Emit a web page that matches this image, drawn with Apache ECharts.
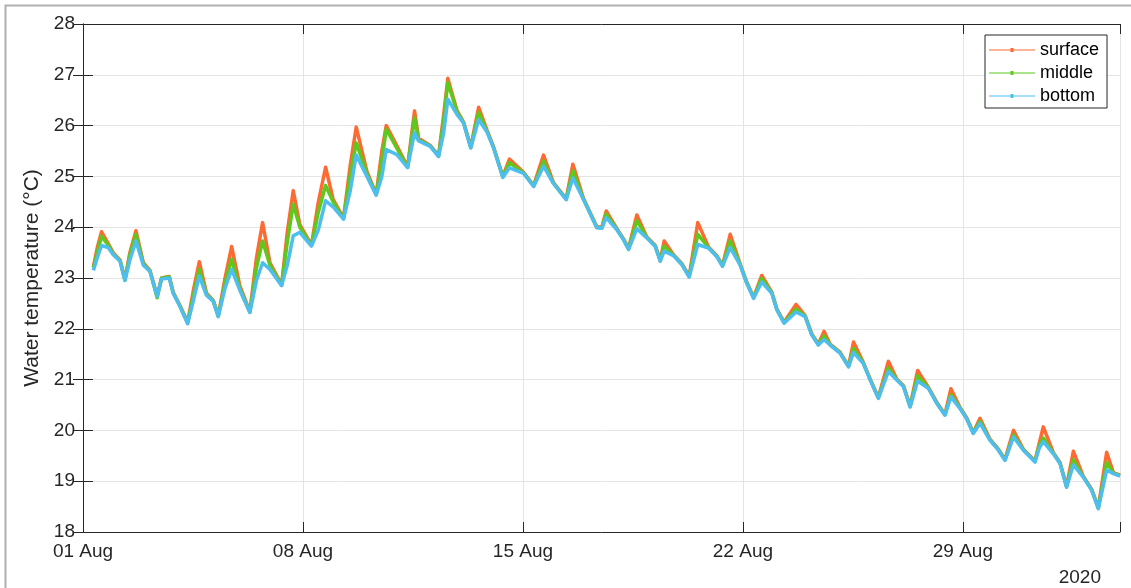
<!DOCTYPE html>
<html><head><meta charset="utf-8">
<script src="https://cdn.jsdelivr.net/npm/echarts@6/dist/echarts.min.js"></script>
<style>html,body{margin:0;padding:0;background:#fff}#c{width:1131px;height:588px}</style>
</head><body><div id="c"></div><script>
// Tick positions (days since 01 Aug 2020) and their labels
const dayTicks = [0, 7, 14, 21, 28];
const tickLabels = ['01 Aug', '08 Aug', '15 Aug', '22 Aug', '29 Aug'];
const yearLabel = '2020';
const seriesNames = ['surface', 'middle', 'bottom'];

// Sample times (days since 01 Aug 2020 00:00)
const days = [0.33,0.455,0.59,0.80,0.96,1.18,1.335,1.49,1.685,1.92,2.13,2.36,2.50,2.745,2.87,3.085,3.33,3.51,3.70,3.93,
4.145,4.305,4.52,4.73,4.99,5.31,5.52,5.715,5.95,6.32,6.50,6.69,6.90,7.27,7.49,7.72,7.96,8.29,8.50,8.695,
9.035,9.33,9.51,9.65,9.99,10.33,10.55,10.68,11.05,11.315,11.475,11.61,11.90,12.11,12.34,12.59,12.85,13.065,13.36,13.57,
14.02,14.34,14.655,14.97,15.375,15.59,15.93,16.35,16.51,16.65,16.99,17.20,17.36,17.625,17.94,18.21,18.37,18.495,18.79,19.06,
19.29,19.565,19.905,20.17,20.35,20.595,20.91,21.12,21.34,21.60,21.92,22.08,22.31,22.69,22.98,23.19,23.40,23.58,23.775,24.09,
24.36,24.52,24.83,25.05,25.31,25.63,25.895,26.11,26.32,26.56,26.90,27.17,27.43,27.62,27.91,28.12,28.33,28.545,28.86,29.13,
29.34,29.61,29.925,30.295,30.43,30.56,30.88,31.09,31.30,31.515,31.83,32.10,32.31,32.575,32.79,33.0];

const surface = [23.22,23.60,23.91,23.68,23.50,23.35,22.97,23.50,23.93,23.30,23.15,22.65,23.00,23.03,22.72,22.46,22.13,22.75,23.32,22.70,
22.56,22.26,23.00,23.62,22.85,22.34,23.40,24.09,23.30,22.87,23.90,24.72,24.05,23.65,24.50,25.18,24.55,24.18,25.20,25.97,
25.10,24.65,25.50,26.00,25.60,25.19,26.29,25.75,25.61,25.41,26.20,26.93,26.30,26.07,25.58,26.36,25.92,25.58,25.00,25.34,
25.08,24.82,25.42,24.88,24.56,25.24,24.56,24.01,24.00,24.32,23.97,23.77,23.58,24.24,23.81,23.64,23.35,23.73,23.46,23.28,
23.04,24.09,23.61,23.44,23.25,23.86,23.28,22.92,22.62,23.05,22.72,22.39,22.13,22.48,22.26,21.90,21.70,21.95,21.70,21.54,
21.27,21.74,21.34,21.01,20.65,21.36,21.01,20.88,20.48,21.18,20.85,20.55,20.32,20.82,20.45,20.25,19.96,20.24,19.83,19.63,
19.43,20.00,19.63,19.40,19.75,20.07,19.56,19.37,18.90,19.59,19.10,18.84,18.48,19.57,19.17,19.12];

const middle = [23.20,23.50,23.82,23.65,23.48,23.34,22.96,23.45,23.86,23.28,23.14,22.61,23.00,23.02,22.71,22.45,22.12,22.65,23.17,22.68,
22.55,22.25,22.90,23.37,22.80,22.33,23.20,23.73,23.25,22.86,23.70,24.45,24.00,23.64,24.30,24.82,24.50,24.17,25.00,25.66,
25.06,24.64,25.30,25.93,25.55,25.18,26.16,25.72,25.60,25.40,26.10,26.85,26.28,26.06,25.57,26.26,25.90,25.57,24.99,25.27,
25.07,24.81,25.30,24.87,24.55,25.11,24.55,24.00,23.99,24.26,23.96,23.76,23.57,24.13,23.80,23.63,23.34,23.63,23.45,23.27,
23.03,23.86,23.60,23.43,23.24,23.73,23.27,22.91,22.61,22.99,22.71,22.38,22.12,22.39,22.25,21.89,21.69,21.86,21.69,21.53,
21.26,21.61,21.33,21.00,20.64,21.23,21.00,20.87,20.47,21.07,20.84,20.54,20.31,20.70,20.44,20.24,19.95,20.18,19.82,19.62,
19.42,19.91,19.62,19.39,19.70,19.85,19.55,19.36,18.89,19.42,19.09,18.83,18.47,19.37,19.16,19.11];

const bottom = [23.15,23.40,23.64,23.60,23.46,23.33,22.95,23.35,23.73,23.25,23.13,22.64,22.98,23.00,22.70,22.44,22.10,22.55,23.04,22.66,
22.54,22.24,22.80,23.17,22.76,22.32,22.95,23.30,23.17,22.85,23.25,23.83,23.90,23.63,23.95,24.52,24.40,24.16,24.70,25.42,
25.00,24.63,25.00,25.53,25.43,25.17,25.86,25.70,25.59,25.39,25.85,26.52,26.22,26.05,25.56,26.12,25.88,25.56,24.98,25.17,
25.06,24.80,25.20,24.86,24.54,24.97,24.54,23.99,23.98,24.19,23.95,23.75,23.56,23.97,23.79,23.62,23.33,23.53,23.44,23.26,
23.02,23.66,23.59,23.42,23.23,23.60,23.26,22.90,22.60,22.92,22.70,22.37,22.11,22.33,22.24,21.88,21.68,21.79,21.68,21.52,
21.25,21.53,21.32,20.99,20.63,21.16,20.99,20.86,20.46,20.97,20.83,20.53,20.30,20.66,20.43,20.23,19.94,20.14,19.81,19.61,
19.41,19.87,19.61,19.38,19.65,19.78,19.54,19.35,18.88,19.32,19.08,18.82,18.46,19.22,19.15,19.10];

const colors = ['#FF6A33', '#5FC81C', '#4DBEEE'];
const zip = v => days.map((d, i) => [d, v[i]]);
const txt = '#262626';
const font = '"Liberation Sans", Arial, Helvetica, sans-serif';
const gridCol = '#e4e4e4';
// legend glyph: thin line with a small square marker in the middle
const legendIcon = 'path://M0,1.4H46V2.6H0Z M21.5,0H24.5V4H21.5Z';

const chart = echarts.init(document.getElementById('c'), null, {renderer: 'canvas'});
const axisCommon = {
  axisLine: {show: true, lineStyle: {color: txt, width: 1}},
  axisTick: {show: true, inside: true, length: 10, lineStyle: {color: txt, width: 1}},
};
chart.setOption({
  animation: false,
  textStyle: {fontFamily: font},
  grid: {left: 83, right: 11, top: 24, bottom: 56, containLabel: false},
  legend: {
    orient: 'vertical', left: 985, top: 35,
    data: seriesNames.map(n => ({name: n, icon: legendIcon})),
    itemWidth: 46, itemHeight: 4, itemGap: 5,
    backgroundColor: '#fff', borderColor: txt, borderWidth: 1,
    padding: [6, 8, 3, 4],
    textStyle: {fontSize: 18, color: '#000', fontFamily: font}
  },
  xAxis: [{
    type: 'value', min: 0, max: 33, interval: 7, position: 'bottom',
    ...axisCommon,
    splitLine: {show: true, lineStyle: {color: gridCol, width: 1}},
    axisLabel: {fontSize: 19, color: txt, margin: 10, fontFamily: font,
      formatter: v => { const i = dayTicks.indexOf(v); return i >= 0 ? tickLabels[i] : ''; }}
  }, {
    type: 'value', min: 0, max: 33, interval: 7, position: 'top',
    ...axisCommon, splitLine: {show: false}, axisLabel: {show: false}
  }],
  yAxis: [{
    type: 'value', min: 18, max: 28, interval: 1, position: 'left',
    ...axisCommon,
    splitLine: {show: true, lineStyle: {color: gridCol, width: 1}},
    axisLabel: {fontSize: 19, color: txt, margin: 8, fontFamily: font},
    name: 'Water temperature (°C)', nameLocation: 'middle', nameGap: 38,
    nameTextStyle: {fontSize: 21, color: txt, fontFamily: font}
  }, {
    type: 'value', min: 18, max: 28, interval: 1, position: 'right',
    ...axisCommon, splitLine: {show: false}, axisLabel: {show: false}
  }],
  series: seriesNames.map((name, k) => ({
    name, type: 'line',
    data: zip([surface, middle, bottom][k]),
    symbol: 'circle', symbolSize: 3, showSymbol: false,
    lineStyle: {color: colors[k], width: 3.5, join: 'round'},
    itemStyle: {color: colors[k]},
    emphasis: {disabled: true}
  })),
  graphic: [
    {type: 'rect', silent: true, shape: {x: 5.5, y: 5.5, width: 1140, height: 600},
     style: {fill: 'none', stroke: '#b0b0b0', lineWidth: 2}},
    {type: 'text', silent: true, x: 1101, y: 578,
     style: {text: yearLabel, fill: txt, font: '19px ' + font, textAlign: 'right', textVerticalAlign: 'middle'}}
  ]
});
</script></body></html>
